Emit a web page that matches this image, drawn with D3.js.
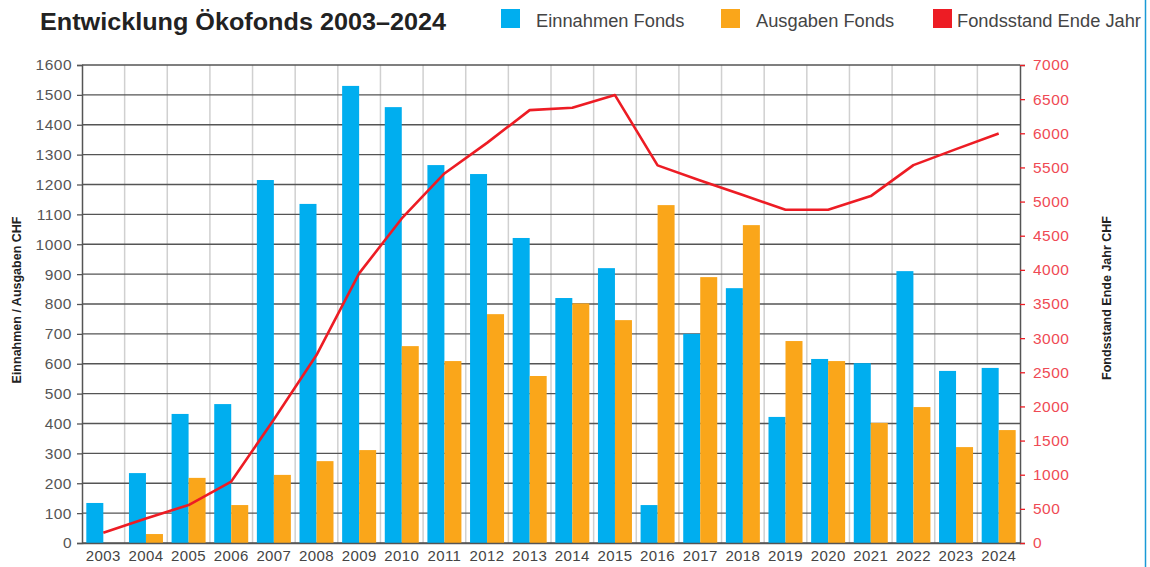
<!DOCTYPE html>
<html>
<head>
<meta charset="utf-8">
<script src="https://d3js.org/d3.v7.min.js"></script>
<style>
body{margin:0;background:#fff;font-family:'Liberation Sans',Arial,sans-serif}
svg{display:block}
</style>
</head>
<body>
<div id="chart"></div>
<script>
// data
const years = ["2003","2004","2005","2006","2007","2008","2009","2010","2011","2012","2013",
               "2014","2015","2016","2017","2018","2019","2020","2021","2022","2023","2024"];
const einnahmen = [134,234,432,465,1215,1135,1530,1459,1265,1235,1021,
                   820,920,127,700,853,422,616,602,910,576,586];
const ausgaben = [0,30,218,127,228,274,311,659,609,766,559,
                  802,746,1131,890,1064,676,609,402,455,321,378];
const fondsstand = [150,360,556,900,1810,2752,3948,4753,5412,5860,6339,
                    6373,6559,5530,5310,5095,4880,4880,5080,5534,5768,5998];
const leftTicks = d3.range(0, 1601, 100);
const rightTicks = d3.range(0, 7001, 500);
const legendItems = [
  {label: "Einnahmen Fonds", color: "#00aeef", x: 501},
  {label: "Ausgaben Fonds", color: "#faa61a", x: 721},
  {label: "Fondsstand Ende Jahr", color: "#ed1c24", x: 933}
];

const W = 1150, H = 567;
const pLeft = 82, pRight = 1020, pTop = 65, pBottom = 543;

const svg = d3.select("#chart").append("svg")
    .attr("width", W).attr("height", H);

svg.append("defs").append("clipPath").attr("id", "clip")
  .append("rect").attr("x", 0).attr("y", 0).attr("width", 1144).attr("height", H);

const root = svg.append("g").attr("clip-path", "url(#clip)");

const x = d3.scaleBand().domain(years).range([pLeft, pRight]).padding(0);
const xs = d3.scaleBand().domain(["ein", "aus"]).range([0, x.bandwidth()])
    .paddingInner(0).paddingOuter(0.254);
const y = d3.scaleLinear().domain([0, 1600]).range([pBottom, pTop]);
const y2 = d3.scaleLinear().domain([0, 7000]).range([pBottom, pTop]);

// vertical grid (category boundaries)
root.append("g").selectAll("line")
  .data(years.slice(1))
  .join("line")
    .attr("x1", d => x(d)).attr("x2", d => x(d))
    .attr("y1", pTop).attr("y2", pBottom)
    .attr("stroke", "#d0d0d0").attr("stroke-width", 1.5);

// horizontal grid
root.append("g").selectAll("line")
  .data(leftTicks)
  .join("line")
    .attr("x1", pLeft).attr("x2", pRight)
    .attr("y1", d => y(d)).attr("y2", d => y(d))
    .attr("stroke", "#555").attr("stroke-width", 1.4);

// bars
const rows = years.map((yr, i) => ({year: yr, ein: einnahmen[i], aus: ausgaben[i]}));
const grp = root.append("g").selectAll("g")
  .data(rows)
  .join("g")
    .attr("transform", d => `translate(${x(d.year)},0)`);
grp.append("rect")
    .attr("x", xs("ein")).attr("width", xs.bandwidth())
    .attr("y", d => y(d.ein)).attr("height", d => y(0) - y(d.ein))
    .attr("fill", "#00aeef");
grp.append("rect")
    .attr("x", xs("aus")).attr("width", xs.bandwidth())
    .attr("y", d => y(d.aus)).attr("height", d => y(0) - y(d.aus))
    .attr("fill", "#faa61a");

// line
const line = d3.line()
    .x((d, i) => x(years[i]) + x.bandwidth() / 2)
    .y(d => y2(d));
root.append("path")
    .datum(fondsstand)
    .attr("d", line)
    .attr("fill", "none")
    .attr("stroke", "#ed1c24")
    .attr("stroke-width", 2.6)
    .attr("stroke-linejoin", "round");

// left axis
const axL = root.append("g")
    .attr("transform", `translate(${pLeft},0)`)
    .call(d3.axisLeft(y).tickValues(leftTicks).tickSize(5).tickPadding(5).tickFormat(d3.format("d")));
axL.select(".domain").attr("stroke", "#555").attr("stroke-width", 1.5);
axL.selectAll(".tick line").attr("stroke", "#555").attr("stroke-width", 1.3);
axL.selectAll("text").attr("fill", "#555").attr("font-size", 15.5)
    .attr("letter-spacing", 0.5).attr("font-family", "'Liberation Sans',Arial,sans-serif");

// right axis
const axR = root.append("g")
    .attr("transform", `translate(${pRight},0)`)
    .call(d3.axisRight(y2).tickValues(rightTicks).tickSize(5).tickPadding(8).tickFormat(d3.format("d")));
axR.select(".domain").attr("stroke", "#555").attr("stroke-width", 1.5);
axR.selectAll(".tick line").attr("stroke", "#ed1c24").attr("stroke-width", 1.3);
axR.selectAll("text").attr("fill", "#ef4a55").attr("font-size", 15.5)
    .attr("letter-spacing", 0.5).attr("font-family", "'Liberation Sans',Arial,sans-serif");

// bottom axis
const axB = root.append("g")
    .attr("transform", `translate(0,${pBottom})`)
    .call(d3.axisBottom(x).tickSize(0).tickPadding(7));
axB.select(".domain").attr("stroke", "#555").attr("stroke-width", 1.5);
axB.selectAll("text").attr("fill", "#444").attr("font-size", 15)
    .attr("letter-spacing", 0.4).attr("font-family", "'Liberation Sans',Arial,sans-serif");

// axis titles
root.append("text")
    .attr("transform", "translate(21,300) rotate(-90)")
    .attr("text-anchor", "middle")
    .attr("font-size", 12.5).attr("font-weight", "bold").attr("fill", "#222")
    .text("Einnahmen / Ausgaben CHF");
root.append("text")
    .attr("transform", "translate(1111,298) rotate(-90)")
    .attr("text-anchor", "middle")
    .attr("font-size", 12.5).attr("font-weight", "bold").attr("fill", "#222")
    .text("Fondsstand Ende Jahr CHF");

// title
root.append("text")
    .attr("x", 40).attr("y", 29.5)
    .attr("font-size", 23).attr("font-weight", "bold").attr("fill", "#222")
    .attr("textLength", 406).attr("lengthAdjust", "spacingAndGlyphs")
    .text("Entwicklung Ökofonds 2003–2024");

// legend
const lg = root.append("g").selectAll("g")
  .data(legendItems)
  .join("g")
    .attr("transform", d => `translate(${d.x},9)`);
lg.append("rect").attr("width", 19).attr("height", 19).attr("fill", d => d.color);
lg.append("text")
    .attr("x", (d, i) => i === 2 ? 24 : 35).attr("y", 17.5)
    .attr("font-size", 18.3).attr("fill", "#444")
    .text(d => d.label);

// frame line on the right
svg.append("line")
    .attr("x1", 1145.5).attr("x2", 1145.5).attr("y1", 0).attr("y2", H)
    .attr("stroke", "#1a9ad6").attr("stroke-width", 1.5);
</script>
</body>
</html>
